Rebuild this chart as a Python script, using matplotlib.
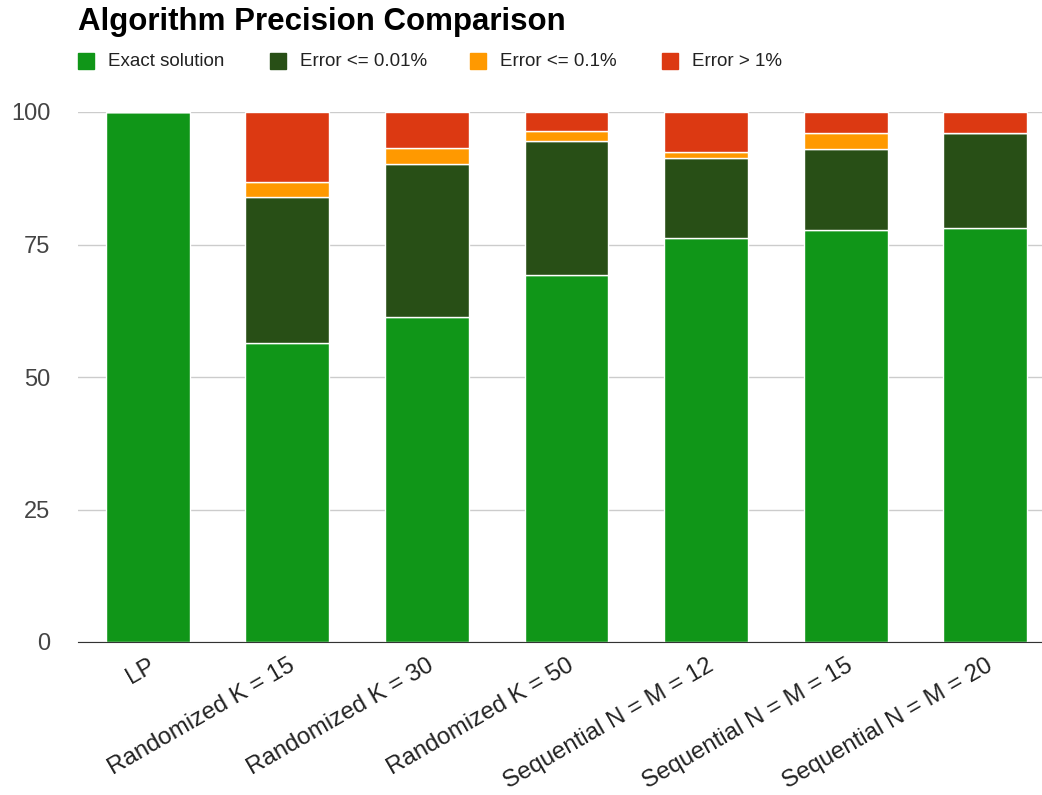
import matplotlib.pyplot as plt
import numpy as np

## données
algos = ['LP', 'Randomized K = 15', 'Randomized K = 30', 'Randomized K = 50',
         'Sequential N = M = 12', 'Sequential N = M = 15', 'Sequential N = M = 20']
exact = [100, 56.4, 61.3, 69.3, 76.3, 77.7, 78.1]
err_001 = [0, 27.5, 28.9, 25.3, 15.0, 15.4, 17.9]
err_01 = [0, 2.8, 2.95, 1.8, 1.1, 2.9, 0]
err_1 = [0, 13.3, 6.85, 3.6, 7.6, 4.0, 4.0]
series = ['Exact solution', 'Error <= 0.01%', 'Error <= 0.1%', 'Error > 1%']
couleurs = ['#109618', '#284f16', '#ff9900', '#dc3912']

plt.rcParams['font.family'] = ['Liberation Sans', 'DejaVu Sans']

fig = plt.figure(figsize=(10.42, 7.95), dpi=100)
ax = fig.add_axes([78/1042, 153/795, 977/1042, 530/795])

x = np.arange(len(algos))
bas = np.zeros(len(algos))
for vals, nom, c in zip([exact, err_001, err_01, err_1], series, couleurs):
    ax.bar(x, vals, 0.6, bottom=bas, color=c, edgecolor='white', linewidth=1, label=nom, zorder=3)
    bas += np.array(vals)

ax.set_xlim(-0.5, len(algos) - 0.5)
ax.set_ylim(0, 100)
ax.set_yticks([0, 25, 50, 75, 100])
ax.grid(axis='y', color='#cccccc', linewidth=1, zorder=0)
for s in ['top', 'right', 'left']:
    ax.spines[s].set_visible(False)
ax.spines['bottom'].set_color('#333333')
ax.spines['bottom'].set_zorder(4)
ax.tick_params(axis='both', length=0, colors='#444444')
ax.tick_params(axis='y', pad=20, labelsize=17)
ax.set_xticks(x)
ax.set_xticklabels(algos, rotation=30, ha='right', rotation_mode='anchor', fontsize=17.3, color='#222222')
ax.tick_params(axis='x', pad=9)

fig.text(78/1042, 1 - 22/795, 'Algorithm Precision Comparison', fontsize=22.5, fontweight='bold',
         va='center', ha='left', color='black')

# légende
leg_x = [78, 270, 470, 662]
for lx, nom, c in zip(leg_x, series, couleurs):
    fig.patches.append(plt.Rectangle((lx/1042, 1 - 69/795), 16/1042, 16/795,
                                     transform=fig.transFigure, color=c, figure=fig))
    fig.text((lx + 30)/1042, 1 - 61/795, nom, fontsize=13.5, va='center', ha='left', color='#222222')

fig.savefig('out.png', dpi=100)
